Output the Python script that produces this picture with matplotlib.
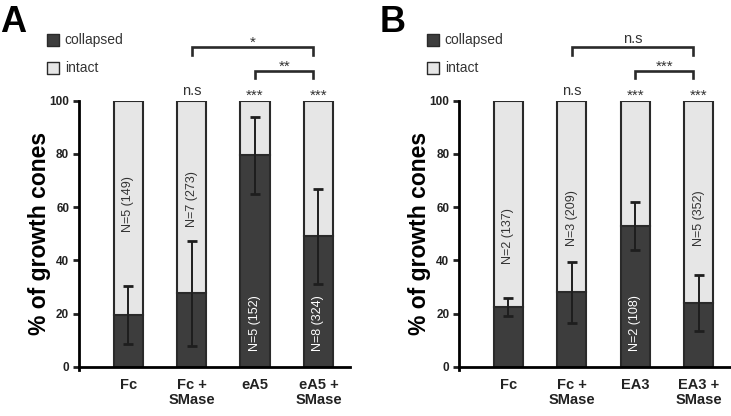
import matplotlib.pyplot as plt

plt.rcParams['font.family'] = ['Liberation Sans', 'DejaVu Sans']

# Panel A data
labels_a = ['Fc', 'Fc +\nSMase', 'eA5', 'eA5 +\nSMase']
collapsed_a = [19.5, 27.6, 79.5, 49.0]
err_a = [10.8, 19.6, 14.5, 18.0]
n_a = ['N=5 (149)', 'N=7 (273)', 'N=5 (152)', 'N=8 (324)']
n_y_a = [61, 63, 16.5, 16.5]
sig_a = ['', 'n.s', '***', '***']
brackets_a = [(1, 3, '*'), (2, 3, '**')]

# Panel B data
labels_b = ['Fc', 'Fc +\nSMase', 'EA3', 'EA3 +\nSMase']
collapsed_b = [22.5, 28.0, 53.0, 24.0]
err_b = [3.3, 11.5, 9.0, 10.4]
n_b = ['N=2 (137)', 'N=3 (209)', 'N=2 (108)', 'N=5 (352)']
n_y_b = [49, 56, 16.5, 56]
sig_b = ['', 'n.s', '***', '***']
brackets_b = [(1, 3, 'n.s'), (2, 3, '***')]

dark = '#3d3d3d'
light = '#e6e6e6'
edge = '#2a2a2a'

fig = plt.figure(figsize=(7.31, 4.16), dpi=100)
ax_a = fig.add_axes([0.108, 0.118, 0.371, 0.640])
ax_b = fig.add_axes([0.628, 0.118, 0.371, 0.640])


def sig_text(ax, x, y, s):
    # asterisks glyphs sit high in the em box, so push them down a bit
    if s == 'n.s':
        ax.text(x, y, s, ha='center', va='center', fontsize=10.5,
                color='#333333', clip_on=False)
    else:
        ax.text(x, y - 1.6, s, ha='center', va='center', fontsize=11,
                color='#333333', clip_on=False)


def draw(ax, labels, collapsed, err, ntext, ny, sig, brackets, letter):
    x = list(range(len(labels)))
    intact = [100 - c for c in collapsed]
    ax.bar(x, collapsed, width=0.46, color=dark, edgecolor=edge, linewidth=1.5)
    ax.bar(x, intact, bottom=collapsed, width=0.46, color=light,
           edgecolor=edge, linewidth=1.5)
    ax.errorbar(x, collapsed, yerr=err, fmt='none', ecolor='#1e1e1e',
                elinewidth=1.4, capsize=3.5, capthick=2)
    for i, t in enumerate(ntext):
        c = 'white' if ny[i] < collapsed[i] else '#333333'
        ax.text(x[i], ny[i], t, rotation=90, ha='center', va='center',
                fontsize=9, color=c)
    for i, s in enumerate(sig):
        if s:
            sig_text(ax, x[i], 103.6, s)
    levels = [(117.3, 120.0), (108.6, 111.2)]
    for (i0, i1, s), (yl, yh) in zip(brackets, levels):
        xa, xb = x[i0], x[i1] - 0.08
        ax.plot([xa, xa, xb, xb], [yl, yh, yh, yl], color='#2a2a2a',
                lw=1.9, clip_on=False, solid_joinstyle='miter')
        sig_text(ax, (xa + xb) / 2, yh + 3.3, s)

    ax.set_xlim(-0.775, 3.5)
    ax.set_ylim(0, 100)
    ax.spines['top'].set_visible(False)
    ax.spines['right'].set_visible(False)
    ax.spines['left'].set_linewidth(2)
    ax.spines['bottom'].set_linewidth(2)
    ax.spines['left'].set_bounds(-1.2, 100)
    ax.set_yticks([0, 20, 40, 60, 80, 100])
    ax.tick_params(axis='y', length=4, width=2, pad=3, labelsize=8.5,
                   colors='#222222')
    ax.tick_params(axis='x', length=0, pad=8, labelsize=10.5)
    ax.set_xticks(x)
    ax.set_xticklabels(labels, fontweight='bold', color='#222222',
                       linespacing=1.1)
    for lab in ax.get_yticklabels():
        lab.set_fontweight('bold')
    ax.set_ylabel('% of growth cones', fontsize=16.5, fontweight='bold',
                  labelpad=-1)

    # legend squares
    ax.scatter([-1.18], [122.8], marker='s', s=65, color=dark,
               edgecolor=edge, linewidths=1, clip_on=False)
    ax.scatter([-1.18], [112.4], marker='s', s=65, color=light,
               edgecolor=edge, linewidths=1, clip_on=False)
    ax.text(-1.0, 122.8, 'collapsed', va='center', fontsize=10,
            color='#333333', clip_on=False)
    ax.text(-1.0, 112.4, 'intact', va='center', fontsize=10,
            color='#333333', clip_on=False)
    ax.text(-2.02, 129.3, letter, fontsize=26, fontweight='bold',
            ha='left', va='center', clip_on=False)


draw(ax_a, labels_a, collapsed_a, err_a, n_a, n_y_a, sig_a, brackets_a, 'A')
draw(ax_b, labels_b, collapsed_b, err_b, n_b, n_y_b, sig_b, brackets_b, 'B')

fig.savefig('out.png', dpi=100)
